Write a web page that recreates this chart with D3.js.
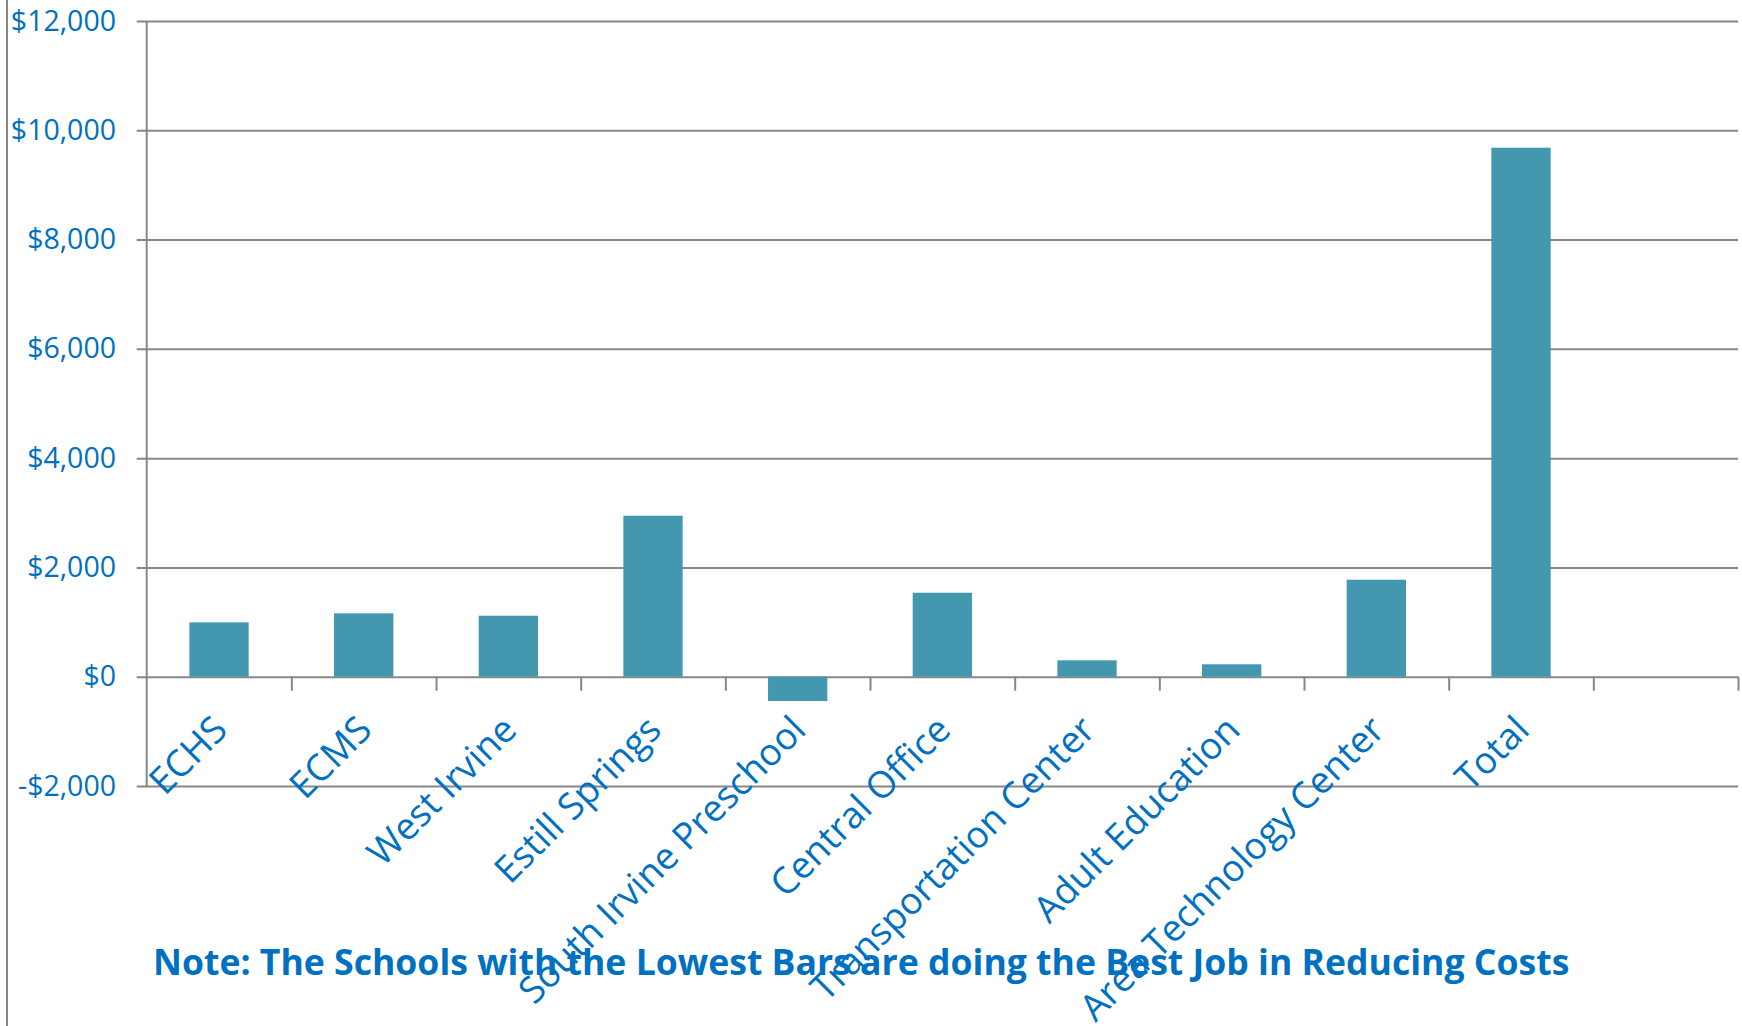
<!DOCTYPE html>
<html>
<head>
<meta charset="utf-8">
<script src="https://cdn.jsdelivr.net/npm/d3@7"></script>
<style>
  html, body { margin: 0; padding: 0; background: #fff; }
  svg { display: block; }
</style>
</head>
<body>
<div id="chart"></div>
<script>
// data
var categories = ["ECHS", "ECMS", "West Irvine", "Estill Springs", "South Irvine Preschool",
    "Central Office", "Transportation Center", "Adult Education", "Area Technology Center", "Total"];
var values = [995, 1160, 1116, 2946, -445, 1537, 300, 227, 1775, 9681];
var yTicks = [-2000, 0, 2000, 4000, 6000, 8000, 10000, 12000];
var note = "Note: The Schools with the Lowest Bars are doing the Best Job in Reducing Costs";

var width = 1742, height = 1026,
    plotLeft = 146.7, plotRight = 1738, plotTop = 21, plotBottom = 786,
    blue = "#0070c0", grey = "#878787", barColor = "#4398b0";

var svg = d3.select("#chart").append("svg")
    .attr("width", width).attr("height", height);

// the original has one empty slot after "Total"
var slots = categories.concat([" "]);
var x = d3.scaleBand().domain(slots).range([plotLeft, plotRight]);
var y = d3.scaleLinear().domain([-2000, 12000]).range([plotBottom, plotTop]);
var fmt = d3.format(",");

// left border of the chart area
svg.append("line")
    .attr("x1", 7).attr("x2", 7).attr("y1", 0).attr("y2", height)
    .attr("stroke", grey).attr("stroke-width", 2);

// y axis + gridlines
var yAxis = svg.append("g")
    .attr("transform", "translate(" + plotLeft + ",0)")
    .call(d3.axisLeft(y)
        .tickValues(yTicks)
        .tickSize(-(plotRight - plotLeft))
        .tickPadding(30.7)
        .tickFormat(function (d) { return d < 0 ? "-$" + fmt(-d) : "$" + fmt(d); }));
yAxis.select(".domain").remove();
yAxis.selectAll(".tick line")
    .attr("x1", -10)
    .attr("stroke", grey).attr("stroke-width", 2);
yAxis.selectAll(".tick text")
    .attr("fill", blue)
    .style("font-family", "'Open Sans', sans-serif")
    .style("font-size", "28.5px");

svg.append("line")
    .attr("x1", plotLeft).attr("x2", plotLeft).attr("y1", plotTop).attr("y2", plotBottom)
    .attr("stroke", grey).attr("stroke-width", 2);

// bars
svg.selectAll("rect.bar")
    .data(values)
    .enter()
    .append("rect")
    .attr("class", "bar")
    .attr("x", function (d, i) { return x(categories[i]) + x.bandwidth() * 0.295; })
    .attr("width", x.bandwidth() * 0.41)
    .attr("y", function (d) { return y(Math.max(d, 0)); })
    .attr("height", function (d) { return Math.abs(y(d) - y(0)); })
    .attr("fill", barColor);

// x axis ticks between categories
var xb = d3.scaleLinear().domain([0, slots.length]).range([plotLeft, plotRight]);
var xAxis = svg.append("g")
    .attr("transform", "translate(0," + y(0) + ")")
    .call(d3.axisBottom(xb)
        .tickValues(d3.range(1, slots.length + 1))
        .tickSize(14)
        .tickFormat(""));
xAxis.select(".domain").remove();
xAxis.selectAll(".tick line").attr("stroke", grey).attr("stroke-width", 2);

// rotated category labels
svg.selectAll("text.cat")
    .data(categories)
    .enter()
    .append("text")
    .attr("class", "cat")
    .attr("transform", function (d) {
        var cx = x(d) + x.bandwidth() / 2;
        return "translate(" + cx + "," + (y(0) + 45) + ") rotate(-45)";
    })
    .attr("text-anchor", "end")
    .attr("dominant-baseline", "central")
    .attr("fill", blue)
    .style("font-family", "'Open Sans', sans-serif")
    .style("font-size", "37px")
    .text(function (d) { return d; });

// note under the chart
var noteText = svg.append("text")
    .attr("x", 153).attr("y", 975)
    .attr("fill", blue)
    .style("font-family", "'Open Sans', sans-serif")
    .style("font-weight", "bold")
    .style("font-size", "34px")
    .text(note);
var w = noteText.node().getComputedTextLength();
noteText.style("font-size", (34 * 1417 / w) + "px");
</script>
</body>
</html>
